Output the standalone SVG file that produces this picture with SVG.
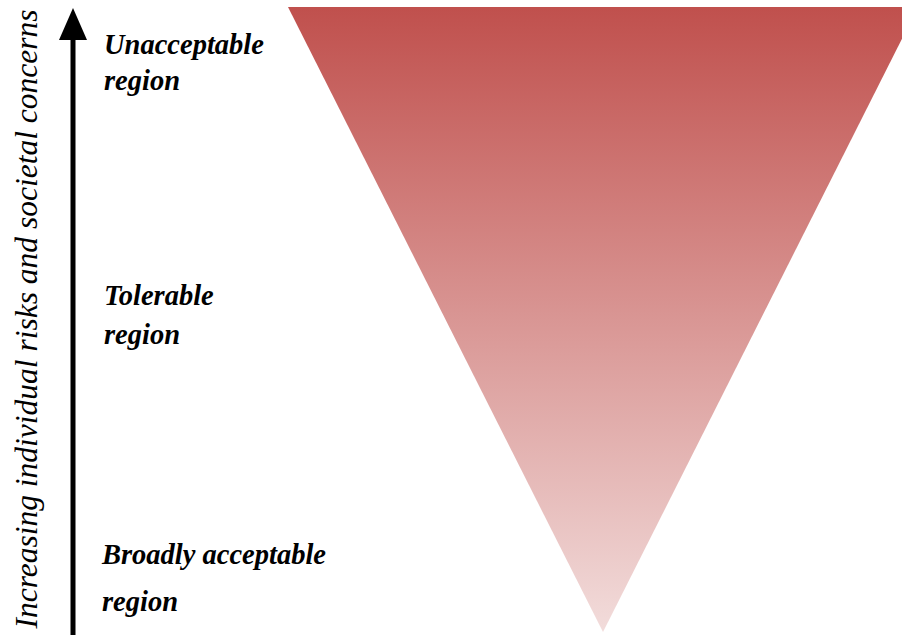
<svg xmlns="http://www.w3.org/2000/svg" width="902" height="635" viewBox="0 0 902 635">
<style>
.lbl{font-family:"Liberation Serif","Times New Roman",serif;font-style:italic;font-weight:bold;font-size:28.5px;fill:#000}
.axis{font-family:"Liberation Serif","Times New Roman",serif;font-style:italic;font-size:31.5px;fill:#000}
</style>
<defs>
<linearGradient id="g" x1="0" y1="0" x2="0" y2="1">
<stop offset="0" stop-color="#C0504D"/>
<stop offset="1" stop-color="#F2DCDB"/>
</linearGradient>
</defs>
<rect width="902" height="635" fill="#fff"/>
<g id="triangle">
<polygon points="288,7 918,7 603,632" fill="url(#g)"/>
</g>
<g id="connectors">
<line x1="73" y1="36" x2="73" y2="635" stroke="#000" stroke-width="5"/>
<polygon points="73,8 59,40 87,40" fill="#000"/>
</g>
<g id="axis-label">
<text class="axis" transform="translate(37,319) rotate(-90)" text-anchor="middle">Increasing individual risks and societal concerns</text>
</g>
<g id="unacceptable">
<text class="lbl" x="104" y="54">Unacceptable</text>
<text class="lbl" x="104" y="90">region</text>
</g>
<g id="tolerable">
<text class="lbl" x="104" y="305">Tolerable</text>
<text class="lbl" x="104" y="344">region</text>
</g>
<g id="broadly">
<text class="lbl" x="102" y="564">Broadly acceptable</text>
<text class="lbl" x="102" y="611">region</text>
</g>
</svg>
